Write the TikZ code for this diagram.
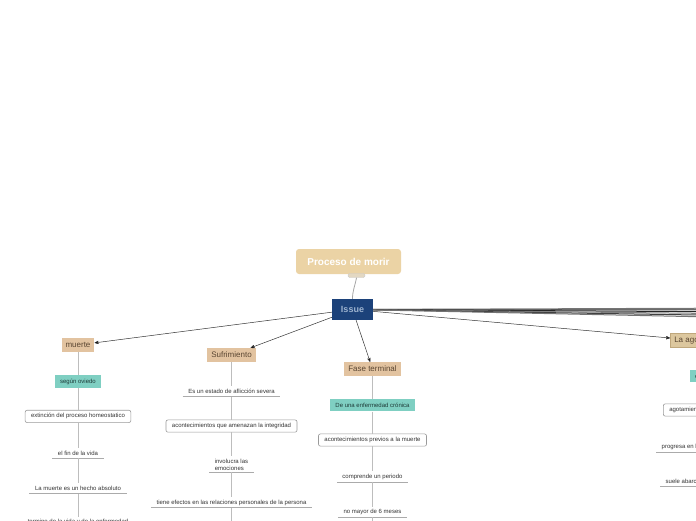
\documentclass[tikz,border=0pt]{standalone}
\usepackage{fontspec}
\setmainfont{Liberation Sans}
\usepackage{tikz}
\usetikzlibrary{arrows,positioning}
\definecolor{rootfill}{HTML}{EBD3A5}
\definecolor{tabfill}{HTML}{E3D8C2}
\definecolor{issuefill}{HTML}{1C427A}
\definecolor{issuetext}{HTML}{9DB3CF}
\definecolor{topicfill}{HTML}{E2C3A0}
\definecolor{topictext}{HTML}{5A4632}
\definecolor{agofill}{HTML}{DCC79E}
\definecolor{agodraw}{HTML}{BFA77C}
\definecolor{notefill}{HTML}{7FCFC2}
\definecolor{notetext}{HTML}{1E3B38}
\definecolor{boxdraw}{HTML}{9A9A9A}
\definecolor{leaftext}{HTML}{333333}
\definecolor{stemgrey}{HTML}{BDBDBD}
\definecolor{undergrey}{HTML}{ABABAB}
\definecolor{arrowgrey}{HTML}{333333}
\tikzset{
    %Define standard arrow tip
    >=stealth',
    %Define style for the central boxes
    rootnode/.style={
           rectangle,
           rounded corners=3pt,
           fill=rootfill,
           text=white,
           minimum width=105pt,
           minimum height=25pt,
           font=\fontsize{10}{12}\selectfont\bfseries,
           },
    tabnode/.style={
           rectangle,
           rounded corners=1.5pt,
           fill=tabfill,
           draw=gray!40, line width=0.4pt,
           minimum width=17pt,
           minimum height=4pt,
           inner sep=0pt,
           },
    issuenode/.style={
           rectangle,
           fill=issuefill,
           text=issuetext,
           minimum width=41pt,
           minimum height=21pt,
           font=\fontsize{9}{10}\selectfont\bfseries,
           },
    %Define style for the topics and their notes
    topic/.style={
           rectangle,
           fill=topicfill,
           text=topictext,
           minimum height=14pt,
           inner xsep=4pt,
           font=\fontsize{8}{9}\selectfont,
           },
    note/.style={
           rectangle,
           fill=notefill,
           text=notetext,
           minimum height=12pt,
           inner xsep=5pt,
           font=\fontsize{6}{7}\selectfont,
           },
    boxed/.style={
           rectangle,
           rounded corners=2pt,
           draw=boxdraw, line width=0.6pt,
           fill=white,
           text=leaftext,
           minimum height=12pt,
           inner xsep=6pt,
           font=\fontsize{6}{7}\selectfont,
           },
    leaf/.style={
           rectangle,
           text=leaftext,
           minimum height=10pt,
           inner xsep=5.5pt,
           inner ysep=1pt,
           font=\fontsize{6}{7}\selectfont,
           append after command={(\tikzlastnode.south west) edge[-,draw=undergrey,line width=0.7pt] (\tikzlastnode.south east)},
           },
    % Define line styles
    stem/.style={
           -,
           draw=stemgrey,
           line width=0.8pt,},
    pil/.style={
           ->,
           draw=arrowgrey,
           line width=0.5pt,},
}

\begin{document}
\begin{tikzpicture}[x=1pt,y=-1pt,node distance=23pt]
\useasboundingbox (0,0) rectangle (696,520);
\clip (0,0) rectangle (696,520);
 %centre
\node[rootnode](root) at (348.5,261.5){Proceso de morir};
\node[tabnode](tab) at (356.5,275.5){};
\node[issuenode](issue) at (352.5,309.5){Issue};
\draw[-,draw=gray!70,line width=0.8pt] (tab.south) to[out=-100,in=90] (issue.north);
 %muerte
\node[topic](m1) at (78,345){muerte};
\node[note, below=of m1](m2){según oviedo};
\node[boxed, below=22pt of m2](m3){extinción del proceso homeostatico};
\node[leaf, below=25pt of m3](m4){el fin de la vida};
\node[leaf, below=25pt of m4](m5){La muerte es un hecho absoluto};
\node[leaf, below=23pt of m5](m6){termino de la vida y de la enfermedad};
 %sufrimiento
\node[topic](s1) at (231.5,355){Sufrimiento};
\node[leaf, below=24pt of s1](s2){Es un estado de aflicción severa};
\node[boxed, below=of s2](s3){acontecimientos que amenazan la integridad};
\node[leaf, below=24pt of s3, align=left, inner ysep=2pt](s4){involucra las\\emociones};
\node[leaf, below=25pt of s4](s5){tiene efectos en las relaciones personales de la persona};
\coordinate[below=30pt of s5](s6);
 %fase terminal
\node[topic](f1) at (372.5,369){Fase terminal};
\node[note, below=of f1](f2){De una enfermedad crónica};
\node[boxed, below=22pt of f2](f3){acontecimientos previos a la muerte};
\node[leaf, below=25pt of f3](f4){comprende un periodo};
\node[leaf, below=25pt of f4](f5){no mayor de 6 meses};
\coordinate[below=30pt of f5](f6);
 %agonia
\node[topic, fill=agofill, draw=agodraw, line width=0.5pt, anchor=west](a1) at (670,340){La agonía};
\node[note, anchor=west](a2) at (690,376){es la fase final de la vida};
\node[boxed, anchor=west](a3) at (663,410){agotamiento de las reservas};
\node[leaf, anchor=west](a4) at (656,447){progresa en horas o días};
\node[leaf, anchor=west](a5) at (660,481){suele abarcar los últimos días};
 %stems
\draw[stem] (m1) -- (m2) (m2) -- (m3) (m3) -- (m4) (m4) -- (m5) (m5) -- (m6);
\draw[stem] (s1) -- (s2) (s2) -- (s3) (s3) -- (s4) (s4) -- (s5) (s5) -- (s6);
\draw[stem] (f1) -- (f2) (f2) -- (f3) (f3) -- (f4) (f4) -- (f5) (f5) -- (f6);
 %issue links
\path[pil]
    (issue) edge (m1) edge (s1) edge (f1) edge (a1);
\foreach \y/\c in {308/black!40,309/black!80,310/black!60,312/black!85,314/black!50,316/black!75,318/black!55}{
    \coordinate (r\y) at (760,\y);
    \draw[-,draw=\c,line width=1pt] (issue) -- (r\y);
}
\end{tikzpicture}
\end{document}
